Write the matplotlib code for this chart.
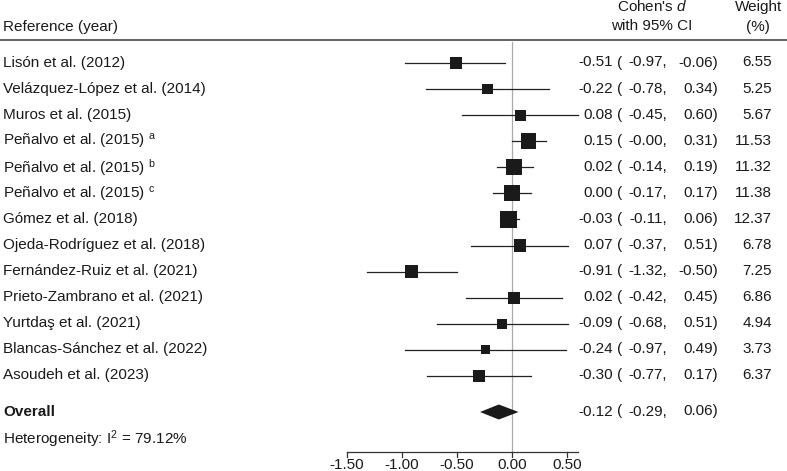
import matplotlib
matplotlib.use("Agg")
import matplotlib.pyplot as plt
from matplotlib.patches import Polygon
import numpy as np

plt.rcParams['font.family'] = ['Liberation Sans', 'DejaVu Sans']
plt.rcParams['mathtext.fontset'] = 'custom'
plt.rcParams['mathtext.rm'] = 'Liberation Sans'
plt.rcParams['mathtext.it'] = 'Liberation Sans:italic'

studies = ["Lisón et al. (2012)", "Velázquez-López et al. (2014)", "Muros et al. (2015)",
           "Peñalvo et al. (2015) $^{\\mathrm{a}}$", "Peñalvo et al. (2015) $^{\\mathrm{b}}$",
           "Peñalvo et al. (2015) $^{\\mathrm{c}}$", "Gómez et al. (2018)",
           "Ojeda-Rodríguez et al. (2018)", "Fernández-Ruiz et al. (2021)",
           "Prieto-Zambrano et al. (2021)", "Yurtdaş et al. (2021)",
           "Blancas-Sánchez et al. (2022)", "Asoudeh et al. (2023)"]
effect = [-0.51, -0.22, 0.08, 0.15, 0.02, 0.00, -0.03, 0.07, -0.91, 0.02, -0.09, -0.24, -0.30]
lower = [-0.97, -0.78, -0.45, -0.00, -0.14, -0.17, -0.11, -0.37, -1.32, -0.42, -0.68, -0.97, -0.77]
upper = [-0.06, 0.34, 0.60, 0.31, 0.19, 0.17, 0.06, 0.51, -0.50, 0.45, 0.51, 0.49, 0.17]
weights = [6.55, 5.25, 5.67, 11.53, 11.32, 11.38, 12.37, 6.78, 7.25, 6.86, 4.94, 3.73, 6.37]
lower_txt = ["-0.97", "-0.78", "-0.45", "-0.00", "-0.14", "-0.17", "-0.11", "-0.37", "-1.32",
             "-0.42", "-0.68", "-0.97", "-0.77"]
overall = (-0.12, -0.29, 0.06)
i2 = 79.12
xticks = [-1.50, -1.00, -0.50, 0.00, 0.50]

W, H = 787, 471
fig = plt.figure(figsize=(W / 100, H / 100), dpi=100)
ax = fig.add_axes([0, 0, 1, 1])
ppu = 110.2  # pixels per unit
x0px = 512.0
ax.set_xlim(-x0px / ppu, (W - x0px) / ppu)
ax.set_ylim(H, 0)
ax.axis('off')

def px(p):
    return (p - x0px) / ppu

fs = 11
tc = '#1a1a1a'
VA = 'center_baseline'
TOFF = -2.0  # text vertical offset in pixels
row0, dy = 63.0, 26.08
ys = [row0 + i * dy for i in range(len(studies))]
y_over = 412.0
y_het = 438.0
y_axis = 452.0

def txt(x, y, s, ha='left', **kw):
    ax.text(x, y + TOFF, s, fontsize=fs, color=tc, va=VA, ha=ha, **kw)

def ci_cols(y, e, lt, hi):
    txt(px(613), y, f"{e:.2f}", ha='right')
    txt(px(617), y, "(", ha='left')
    txt(px(667), y, f"{lt},", ha='right')
    txt(px(718), y, f"{hi:.2f})", ha='right')

# header
txt(px(3), 27, "Reference (year)")
txt(px(652), 7, "Cohen's $\\mathit{d}$", ha='center')
txt(px(652), 27, "with 95% CI", ha='center')
txt(px(759), 7, "Weight", ha='center')
txt(px(758), 27, "(%)", ha='center')
ax.plot([px(0), px(W)], [40, 40], color='#555555', lw=1.3)

# zero line
ax.plot([0, 0], [42, y_axis], color='#aaaaaa', lw=0.9, zorder=1)

side0 = 16.5
for y, name, e, lo, hi, w, lt in zip(ys, studies, effect, lower, upper, weights, lower_txt):
    txt(px(3), y, name)
    ax.plot([lo, hi], [y, y], color='#222222', lw=0.9, zorder=2)
    s = side0 * np.sqrt(w / max(weights))
    ax.add_patch(plt.Rectangle((e - s / 2 / ppu, y - s / 2), s / ppu, s,
                               facecolor='#1a1a1a', edgecolor='none', zorder=3))
    ci_cols(y, e, lt, hi)
    txt(px(772), y, f"{w:.2f}", ha='right')

# overall
oe, olo, ohi = overall
txt(px(3), y_over, "Overall", fontweight='bold')
ax.add_patch(Polygon([[olo, y_over], [oe, y_over - 7.5], [ohi, y_over], [oe, y_over + 7.5]],
                     closed=True, facecolor='#1a1a1a', edgecolor='none', zorder=3))
ci_cols(y_over, oe, f"{olo:.2f}", ohi)
txt(px(3), y_het, f"Heterogeneity: I$^{{\\mathit{{2}}}}$ = {i2:.2f}%")

# axis
ax.plot([xticks[0], px(578)], [y_axis, y_axis], color='#333333', lw=0.9)
for t in xticks:
    ax.plot([t, t], [y_axis, y_axis + 5], color='#333333', lw=0.9)
    txt(t, 465.5, f"{t:.2f}", ha='center')

fig.savefig("out.png", dpi=100)
